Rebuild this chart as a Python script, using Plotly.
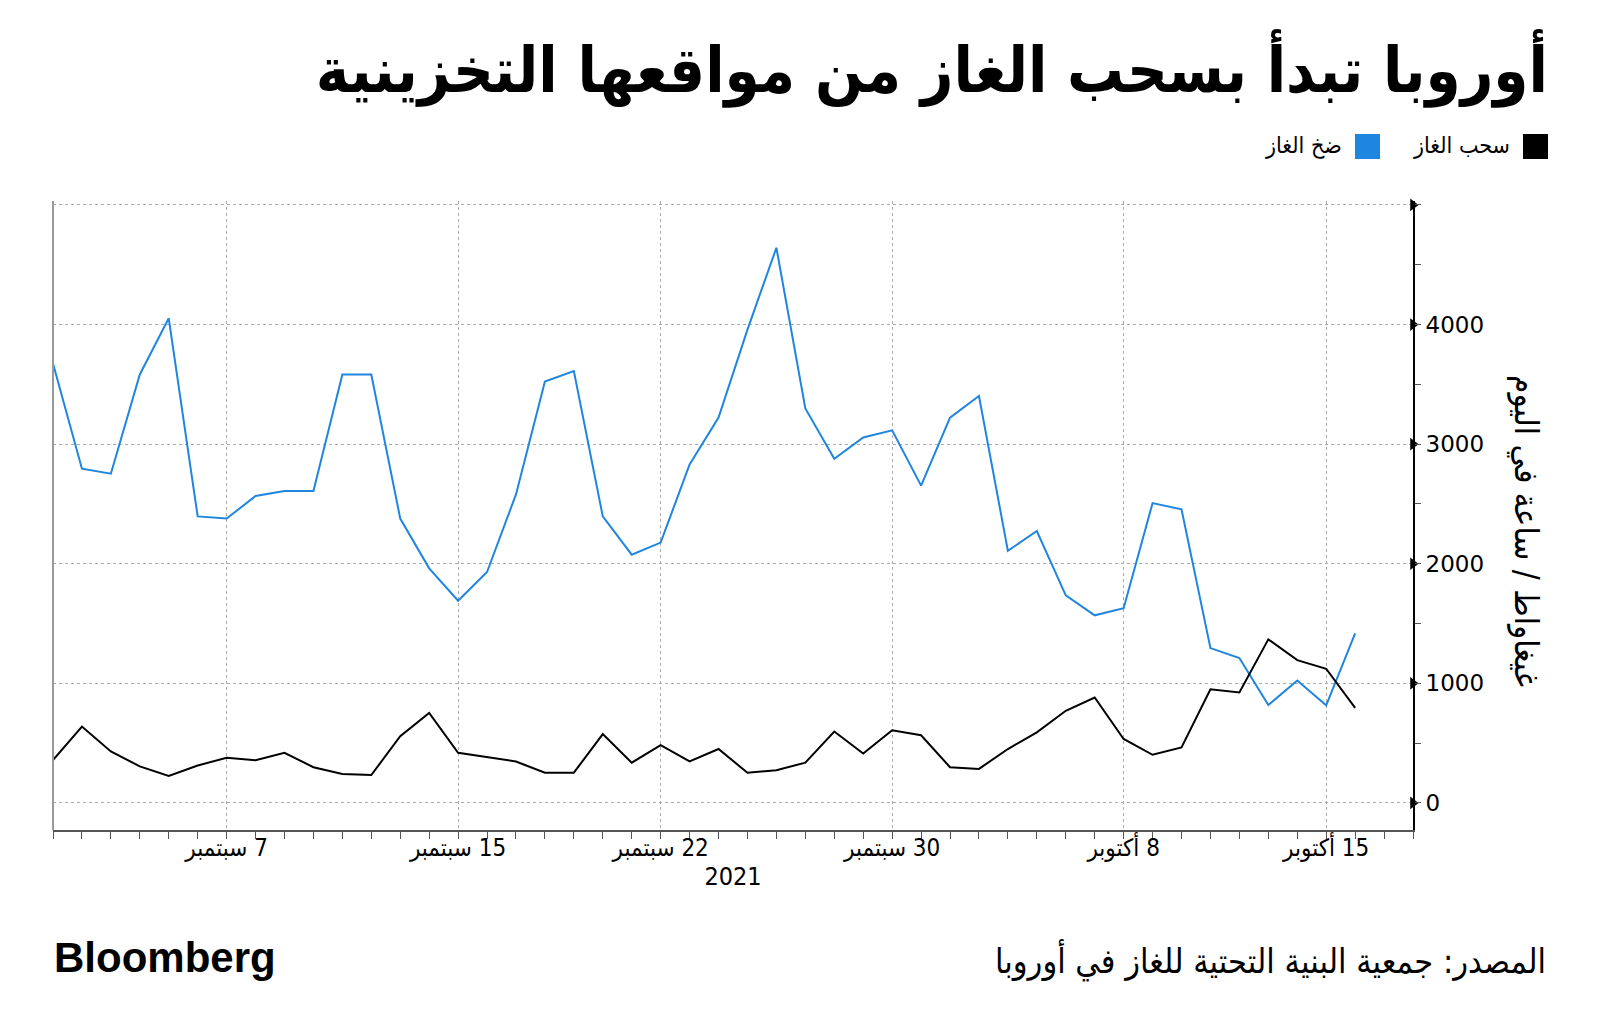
"""
Europe gas storage: injections vs withdrawals (Bloomberg style, Arabic)
"""

import plotly.graph_objects as go
import pandas as pd

# ---- data ----
dates = pd.date_range("2021-09-01", "2021-10-16", freq="D")

injection = [3674, 2795, 2753, 3583, 4052, 2396, 2378, 2566, 2608, 2608,
             3583, 3583, 2378, 1962, 1691, 1931, 2580, 3524, 3611, 2396,
             2076, 2177, 2830, 3222, 3958, 4642, 3299, 2878, 3056, 3115,
             2653, 3222, 3403, 2108, 2274, 1736, 1569, 1628, 2507, 2455,
             1295, 1212, 819, 1024, 816, 1417]

withdrawal = [358, 639, 431, 306, 226, 313, 378, 358, 420, 299,
              243, 233, 559, 753, 420, 382, 347, 253, 253, 576,
              337, 483, 347, 451, 253, 274, 337, 597, 413, 608,
              566, 299, 285, 451, 590, 771, 882, 535, 403, 465,
              951, 924, 1368, 1194, 1122, 795]

x_tick_dates = ["2021-09-07", "2021-09-15", "2021-09-22", "2021-09-30",
                "2021-10-08", "2021-10-15"]
x_tick_text = ["\u200f7 سبتمبر", "\u200f15 سبتمبر", "\u200f22 سبتمبر",
               "\u200f30 سبتمبر", "\u200f8 أكتوبر", "\u200f15 أكتوبر"]

y_tick_vals = [0, 1000, 2000, 3000, 4000, 5000]
y_tick_text = ["0", "1000", "2000", "3000", "4000", ""]

title_text = "أوروبا تبدأ بسحب الغاز من مواقعها التخزينية"
y_title = "غيغاواط / ساعة في اليوم"
source_text = "المصدر: جمعية البنية التحتية للغاز في أوروبا"

BLUE = "#1f86e0"
AR_FONT = "DejaVu Sans Condensed, DejaVu Sans, sans-serif"

# the page body adds an 8px margin around the figure
OFF = 8
W_PX, H_PX = 1600, 1035
# plot area in figure pixels
L, R, T, B = 45, 1405, 193, 822


def px_x(page_px):
    return (page_px - OFF - L) / (R - L)


def px_y(page_py):
    return (B - (page_py - OFF)) / (B - T)


fig = go.Figure()

fig.add_trace(go.Scatter(
    x=dates, y=injection, mode="lines", name="ضخ الغاز",
    line=dict(color=BLUE, width=2), showlegend=False
))
fig.add_trace(go.Scatter(
    x=dates, y=withdrawal, mode="lines", name="سحب الغاز",
    line=dict(color="black", width=2), showlegend=False
))

# arrow-shaped ticks on the right axis
fig.add_trace(go.Scatter(
    x=["2021-10-18"] * len(y_tick_vals), y=y_tick_vals, mode="markers",
    marker=dict(symbol="triangle-right", size=11, color="black"),
    cliponaxis=False, hoverinfo="skip", showlegend=False
))

fig.update_layout(
    width=W_PX, height=H_PX,
    margin=dict(l=L, r=W_PX - R, t=T, b=H_PX - B),
    paper_bgcolor="white", plot_bgcolor="white",
    title=dict(
        text=f"<b>{title_text}</b>", xref="container", yref="container",
        x=(1548 - OFF) / W_PX, xanchor="right", y=1 - (70 - OFF) / H_PX,
        yanchor="middle",
        font=dict(family=AR_FONT, size=63, color="black")
    ),
    xaxis=dict(
        type="date", range=["2021-09-01", "2021-10-18"],
        tickvals=x_tick_dates, ticktext=x_tick_text,
        tickfont=dict(family=AR_FONT, size=24, color="black"),
        ticks="outside", ticklen=7, tickcolor="#555",
        ticklabelstandoff=-12,
        minor=dict(dtick=86400000, tick0="2021-09-01", ticks="outside",
                   ticklen=7, tickcolor="#555", showgrid=False),
        showgrid=True, gridcolor="#aaa", griddash="dot", gridwidth=1,
        showline=True, linecolor="#555", linewidth=1.5,
        zeroline=False,
        title=dict(text="2021", standoff=2,
                   font=dict(family=AR_FONT, size=25, color="black")),
    ),
    yaxis=dict(
        side="right", range=[-226, 5033],
        tickvals=y_tick_vals, ticktext=y_tick_text,
        tickfont=dict(family="DejaVu Sans", size=23, color="black"),
        ticks="", ticklabelstandoff=6,
        minor=dict(dtick=500, ticks="outside", ticklen=6, tickcolor="#555",
                   showgrid=False),
        showgrid=True, gridcolor="#aaa", griddash="dot", gridwidth=1,
        showline=True, linecolor="black", linewidth=2,
        zeroline=False,
    ),
)

# left gray frame line
fig.add_shape(type="line", xref="paper", yref="paper", x0=0, x1=0, y0=0, y1=1.0,
              line=dict(color="#999", width=2))

# rotated y-axis title
fig.add_annotation(
    text=y_title, xref="paper", yref="paper", x=px_x(1527), y=px_y(531),
    textangle=90, showarrow=False, xanchor="center", yanchor="middle",
    font=dict(family=AR_FONT, size=33, color="black")
)

# legend (square on the right, text to the left)
legend_items = [("سحب الغاز", "black", 1548), ("ضخ الغاز", BLUE, 1380)]
for label, color, right_px in legend_items:
    fig.add_shape(type="rect", xref="paper", yref="paper",
                  x0=px_x(right_px - 25), x1=px_x(right_px),
                  y0=px_y(159), y1=px_y(134),
                  fillcolor=color, line=dict(width=0))
    fig.add_annotation(
        text=label, xref="paper", yref="paper",
        x=px_x(right_px - 36), y=px_y(146), xanchor="right", yanchor="middle",
        showarrow=False, font=dict(family=AR_FONT, size=23, color="black")
    )

# footer
fig.add_annotation(
    text="<b>Bloomberg</b>", xref="paper", yref="paper",
    x=px_x(52), y=px_y(957), xanchor="left", yanchor="middle",
    showarrow=False, font=dict(family="Liberation Sans", size=42, color="black")
)
fig.add_annotation(
    text=source_text, xref="paper", yref="paper",
    x=px_x(1548), y=px_y(960), xanchor="right", yanchor="middle",
    showarrow=False, font=dict(family=AR_FONT, size=34, color="black")
)

fig.write_html("out.html")
